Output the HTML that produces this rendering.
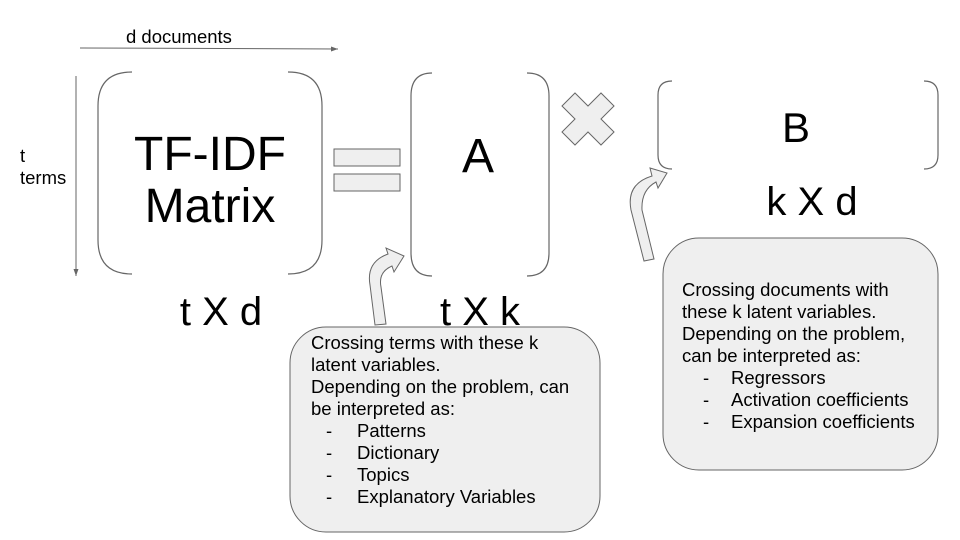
<!DOCTYPE html>
<html><head><style>
body{margin:0;background:#fff;}
svg{display:block}
text{font-family:"Liberation Sans",Arial,sans-serif;fill:#000}
</style></head><body>
<svg width="960" height="540" viewBox="0 0 960 540">
<defs><marker id="ah" markerWidth="8" markerHeight="8" refX="7" refY="4" orient="auto" markerUnits="userSpaceOnUse"><path d="M0,1.5 L7,4 L0,6.5z" fill="#666"/></marker></defs>
<text x="126" y="43" font-size="18.5">d documents</text>
<line x1="80" y1="48" x2="338" y2="49" stroke="#666" stroke-width="1" marker-end="url(#ah)"/>
<line x1="76" y1="76" x2="76" y2="276" stroke="#666" stroke-width="1" marker-end="url(#ah)"/>
<text x="20" y="162" font-size="18.5">t</text>
<text x="20" y="184" font-size="18.5">terms</text>
<g fill="none" stroke="#666" stroke-width="1.2">
<path d="M132,72 Q98,72 98,106 L98,240 Q98,274 132,274"/>
<path d="M288,72 Q322,72 322,106 L322,240 Q322,274 288,274"/>
<path d="M432,73 Q411,73 411,96 L411,253 Q411,276 432,276"/>
<path d="M527,73 Q549,73 549,96 L549,253 Q549,276 527,276"/>
<path d="M672,81 Q658,81 658,95 L658,155 Q658,169 672,169"/>
<path d="M924,81 Q938,81 938,95 L938,155 Q938,169 924,169"/>
</g>
<text x="210" y="170" font-size="48" text-anchor="middle">TF-IDF</text>
<text x="210" y="222" font-size="48" text-anchor="middle">Matrix</text>
<text x="478" y="172" font-size="48" text-anchor="middle">A</text>
<text x="796" y="142" font-size="42" text-anchor="middle">B</text>
<text x="221" y="325" font-size="40" text-anchor="middle">t X d</text>
<text x="480" y="325" font-size="40" text-anchor="middle">t X k</text>
<text x="812" y="215" font-size="40" text-anchor="middle">k X d</text>
<rect x="334" y="149" width="66" height="17" fill="#efefef" stroke="#666"/>
<rect x="334" y="174" width="66" height="17" fill="#efefef" stroke="#666"/>
<path d="M575,93 L588,106 L601,93 L614,106 L601,119 L614,132 L601,145 L588,132 L575,145 L562,132 L575,119 L562,106z" fill="#efefef" stroke="#666"/>
<path d="M375,325 L370,285 Q366,262 388,254 L386,248 L404,256 L394,272 L392,266 Q378,272 381,287 L386,324z" fill="#efefef" stroke="#666"/>
<path d="M644,261 L631,210 Q626,184 652,176 L650,168 L667,173 L658,188 L656,182 Q641,190 642,210 L654,259z" fill="#efefef" stroke="#666"/>
<rect x="290" y="327" width="310" height="205" rx="36" fill="#efefef" stroke="#666"/>
<rect x="663" y="238" width="275" height="232" rx="36" fill="#efefef" stroke="#666"/>
<g font-size="18.5">
<text x="311" y="349">Crossing terms with these k</text>
<text x="311" y="371">latent variables.</text>
<text x="311" y="393">Depending on the problem, can</text>
<text x="311" y="415">be interpreted as:</text>
<text x="326" y="437">-</text><text x="357" y="437">Patterns</text>
<text x="326" y="459">-</text><text x="357" y="459">Dictionary</text>
<text x="326" y="481">-</text><text x="357" y="481">Topics</text>
<text x="326" y="503">-</text><text x="357" y="503">Explanatory Variables</text>
<text x="682" y="296">Crossing documents with</text>
<text x="682" y="318">these k latent variables.</text>
<text x="682" y="340">Depending on the problem,</text>
<text x="682" y="362">can be interpreted as:</text>
<text x="703" y="384">-</text><text x="731" y="384">Regressors</text>
<text x="703" y="406">-</text><text x="731" y="406">Activation coefficients</text>
<text x="703" y="428">-</text><text x="731" y="428">Expansion coefficients</text>
</g>
</svg>
</body></html>
